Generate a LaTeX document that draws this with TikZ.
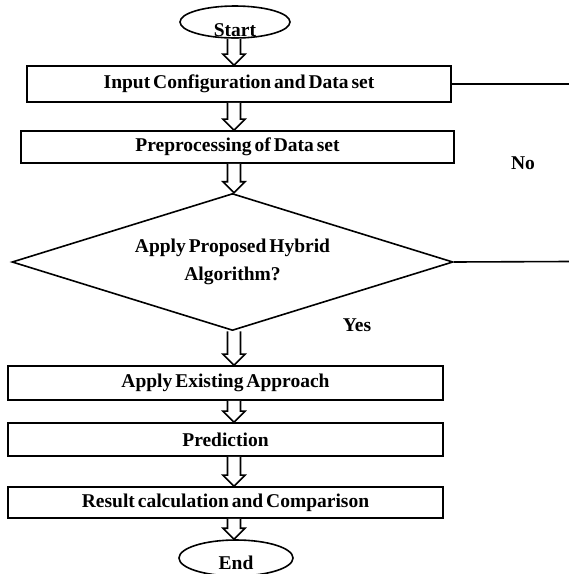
\documentclass[tikz,border=0pt]{standalone}
\usepackage{fontspec}
\setmainfont{Liberation Serif}[WordSpace=0.6]
\usetikzlibrary{shapes.geometric,calc}
\tikzset{
  box/.style={draw, line width=1.7pt, rectangle, inner sep=0pt, font=\bfseries\fontsize{19.5}{22}\selectfont},
  oval/.style={draw, line width=1.6pt, ellipse, inner sep=0pt},
  lbl/.style={inner sep=0pt, font=\bfseries\fontsize{19.5}{22}\selectfont},
  conn/.style={line width=1.6pt},
  harrow/.style={line width=1.6pt, fill=white, line join=miter}
}
\newcommand\blkarrow[2]{%
  \draw[harrow] let \p1=(ax |- #1), \p2=(ax |- #2) in
    (\x1-6.5pt,\y1) -- (\x1-6.5pt,\y2+11pt) -- (\x1-11pt,\y2+11pt) -- (\x1,\y2)
    -- (\x1+11pt,\y2+11pt) -- (\x1+6.5pt,\y2+11pt) -- (\x1+6.5pt,\y1);}
\begin{document}
\begin{tikzpicture}[x=1pt,y=-1pt]
\useasboundingbox (0,0) rectangle (569,574);
\coordinate (ax) at (234,0);
% nodes
\node[oval, minimum width=110pt, minimum height=32pt] (start) at (235,22) {};
\node[lbl] (startt) at (235,30) {Start};
\node[box, minimum width=424pt, minimum height=36pt] (b1) at (239,84) {Input Configuration and Data set};
\node[box, minimum width=433pt, minimum height=32pt] (b2) at (237.5,147) {Preprocessing of Data set};
\node[draw, line width=1.6pt, diamond, inner sep=0pt, aspect=3.2, minimum width=441pt, minimum height=137pt,
      align=center, font=\bfseries\fontsize{19.5}{28}\selectfont] (dia) at (232.5,262) {Apply Proposed Hybrid\\Algorithm?};
\node[box, minimum width=435pt, minimum height=34pt] (b3) at (225.5,383) {Apply Existing Approach};
\node[box, minimum width=435pt, minimum height=33pt] (b4) at (225.5,439.5) {Prediction};
\node[box, minimum width=435pt, minimum height=31pt] (b5) at (225.5,502.5) {Result calculation and Comparison};
\node[oval, minimum width=114pt, minimum height=36pt] (end) at (236,558) {};
\node[lbl] (endt) at (236,563) {End};
\node[lbl] (no) at (523,163) {No};
\node[lbl] (yes) at (357,325) {Yes};
% side lines
\coordinate (r1) at (569,84);
\coordinate (r2) at (569,261.5);
\draw[conn] (b1.east) -- (r1);
\draw[conn] (dia.east) -- (r2);
% block arrows
\blkarrow{start.south}{b1.north}
\blkarrow{b1.south}{b2.north}
\blkarrow{b2.south}{dia.north}
\blkarrow{dia.south}{b3.north}
\blkarrow{b3.south}{b4.north}
\blkarrow{b4.south}{b5.north}
\blkarrow{b5.south}{end.north}
\end{tikzpicture}
\end{document}
